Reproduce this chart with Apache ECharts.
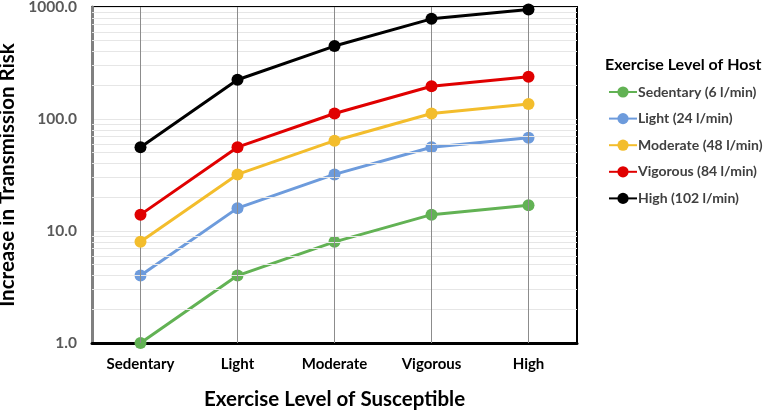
<!DOCTYPE html>
<html>
<head>
<meta charset="utf-8">
<script src="https://cdn.jsdelivr.net/npm/echarts@6/dist/echarts.min.js"></script>
<style>html,body{margin:0;padding:0;background:#fff}#c{width:765px;height:414px}</style>
</head>
<body>
<div id="c"></div>
<script>
var categories = ['Sedentary', 'Light', 'Moderate', 'Vigorous', 'High'];
var seriesNames = ['Sedentary (6 l/min)', 'Light (24 l/min)', 'Moderate (48 l/min)', 'Vigorous (84 l/min)', 'High (102 l/min)'];
var sedentaryHost = [1, 4, 8, 14, 17];
var lightHost = [4, 16, 32, 56, 68];
var moderateHost = [8, 32, 64, 112, 136];
var vigorousHost = [14, 56, 112, 196, 238];
var highHost = [56, 224, 448, 784, 952];
var colors = ['#62b254', '#6d9bdc', '#f3bd2c', '#e00000', '#000000'];
var minorGridValues = [2,3,4,5,6,7,8,9,20,30,40,50,60,70,80,90,200,300,400,500,600,700,800,900];

var font = 'Lato, "Open Sans", sans-serif';
var allData = [sedentaryHost, lightHost, moderateHost, vigorousHost, highHost];

var series = [{
  name: 'grid',
  type: 'line',
  data: [],
  z: 1,
  silent: true,
  markLine: {
    silent: true,
    symbol: 'none',
    animation: false,
    label: {show: false},
    data: minorGridValues.map(function (v) {
      return {yAxis: v, lineStyle: {color: '#e6e6e6', width: 1, type: 'solid'}};
    }).concat(categories.map(function (c) {
      return {xAxis: c, lineStyle: {color: '#8c8c8c', width: 1, type: 'solid'}};
    }))
  }
}];
allData.forEach(function (d, i) {
  series.push({
    name: seriesNames[i],
    type: 'line',
    data: d,
    z: 3 + i,
    symbol: 'circle',
    symbolSize: 12,
    lineStyle: {color: colors[i], width: 3},
    itemStyle: {color: colors[i]},
    animation: false
  });
});

var chart = echarts.init(document.getElementById('c'));
chart.setOption({
  animation: false,
  title: {
    text: 'Exercise Level of Host',
    left: 600, top: 52,
    textStyle: {fontFamily: font, fontWeight: 'bold', fontSize: 16, color: '#000'}
  },
  legend: {
    data: seriesNames,
    orient: 'vertical',
    left: 603, top: 80,
    itemWidth: 28, itemHeight: 14, itemGap: 12.6,
    textStyle: {fontFamily: font, fontWeight: 'bold', fontSize: 14, color: '#404040', padding: [0,0,0,-4]}
  },
  grid: {
    left: 92, right: 188, top: 7, bottom: 71,
    containLabel: false,
    outerBoundsMode: 'none',
    show: true, borderColor: '#000', borderWidth: 2, backgroundColor: 'transparent'
  },
  xAxis: {
    type: 'category',
    data: categories,
    boundaryGap: true,
    axisLine: {lineStyle: {color: '#000', width: 3}},
    axisTick: {show: false},
    axisLabel: {fontFamily: font, fontWeight: 'bold', fontSize: 15, color: '#000', margin: 14},
    splitLine: {show: false},
    name: 'Exercise Level of Susceptible',
    nameLocation: 'middle',
    nameGap: 46,
    nameTextStyle: {fontFamily: font, fontWeight: 'bold', fontSize: 20.5, color: '#000'}
  },
  yAxis: {
    type: 'log',
    logBase: 10,
    min: 1, max: 1000,
    axisLine: {show: true, lineStyle: {color: '#808080', width: 3}},
    axisTick: {show: false},
    axisLabel: {fontFamily: font, fontWeight: 'bold', fontSize: 15.5, color: '#595959', margin: 15,
      formatter: function (v) { return Number(v).toFixed(1); }},
    splitLine: {show: true, lineStyle: {color: '#e6e6e6', width: 1}},
    name: 'Increase in Transmission Risk',
    nameLocation: 'middle',
    nameGap: 63,
    nameTextStyle: {fontFamily: font, fontWeight: 'bold', fontSize: 20.5, color: '#000'}
  },
  series: series
});
</script>
</body>
</html>
